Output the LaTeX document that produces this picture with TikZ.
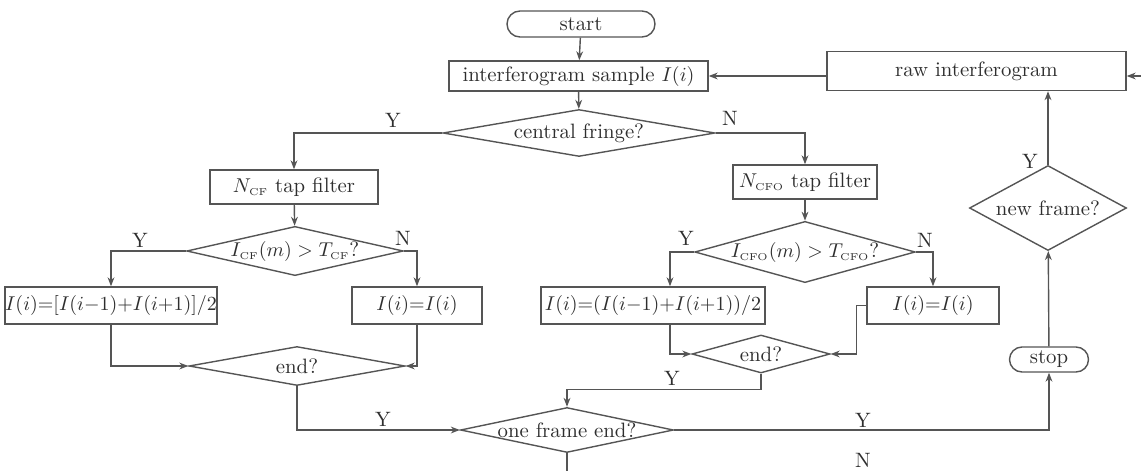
\documentclass[tikz,border=0pt]{standalone}
\usepackage{amsmath, amssymb}
\usepackage{xcolor}
\usepackage{tikz}
\usetikzlibrary{calc, shapes.geometric, shapes.misc, arrows.meta, positioning}

\definecolor{linegray}{HTML}{555555}
\definecolor{textgray}{HTML}{2E2E2E}

\tikzset{
    flowline/.style={draw=linegray, line width=0.7pt},
    arr/.style={flowline, -{Stealth[length=4.5pt, width=3.4pt]}},
    procbox/.style={rectangle, draw=linegray, line width=0.7pt, text=textgray, inner sep=0pt},
    termbox/.style={rounded rectangle, draw=linegray, line width=0.7pt, text=textgray, inner sep=0pt},
    decision/.style={diamond, draw=linegray, line width=0.7pt, text=textgray, inner sep=0pt},
    yn/.style={text=textgray, inner sep=0pt}
}
\newcommand{\sub}[1]{_{\scriptscriptstyle\mathrm{#1}}}

\begin{document}
\begin{tikzpicture}[x=0.5pt, y=-0.5pt, font=\fontsize{10.4}{12}\selectfont]
    \useasboundingbox (0,0) rectangle (1141,471);

    % Khung chính
    \node[termbox, minimum width=74pt, minimum height=13pt] (start) at (581,24) {start};
    \node[procbox, minimum width=129.5pt, minimum height=15pt] (sample) at (578.5,76) {interferogram sample $I(i)$};
    \node[procbox, minimum width=149.5pt, minimum height=19.5pt] (raw) at (976.5,71) {raw interferogram};
    \node[decision, aspect=5.8, minimum width=136pt, minimum height=23.5pt] (central) at (579,133) {central fringe?};

    % Nhánh trái (CF)
    \node[procbox, minimum width=84pt, minimum height=17pt] (ncf) at (294,187) {$N\sub{CF}$ tap filter};
    \node[decision, aspect=4.4, minimum width=101pt, minimum height=23pt] (cf) at (295,251) {$I\sub{CF}(m)>T\sub{CF}$?};
    \node[procbox, minimum width=104pt, minimum height=18.5pt] (box1) at (111,305.5) {$I(i){=}[I(i{-}1){+}I(i{+}1)]/2$};
    \node[procbox, minimum width=65pt, minimum height=18.5pt] (box2) at (417,305.5) {$I(i){=}I(i)$};
    \node[decision, aspect=5.5, minimum width=108pt, minimum height=19.5pt] (end1) at (297,366) {end?};

    % Nhánh phải (CFO)
    \node[procbox, minimum width=72pt, minimum height=17pt] (ncfo) at (805,182) {$N\sub{CFO}$ tap filter};
    \node[decision, aspect=3.6, minimum width=108.5pt, minimum height=30pt] (cfo) at (805,252) {$I\sub{CFO}(m)>T\sub{CFO}$?};
    \node[procbox, minimum width=112pt, minimum height=18.5pt] (box3) at (653,305.5) {$I(i){=}(I(i{-}1){+}I(i{+}1))/2$};
    \node[procbox, minimum width=66pt, minimum height=18.5pt] (box4) at (933,305.5) {$I(i){=}I(i)$};
    \node[decision, aspect=3.6, minimum width=69pt, minimum height=19pt] (end2) at (761,354) {end?};

    % Kết thúc khung
    \node[decision, aspect=4.7, minimum width=106.5pt, minimum height=22.5pt] (oneframe) at (567,430) {one frame end?};
    \node[termbox, minimum width=39.5pt, minimum height=12.5pt] (stop) at (1049,359.5) {stop};
    \node[decision, aspect=1.85, minimum width=78.5pt, minimum height=42.5pt] (newframe) at (1048,208) {new frame?};

    \coordinate (rawin) at (1141,76);
    \coordinate (nout) at (567,471);

    % Các mũi tên
    \draw[arr] (start) -- (sample);
    \draw[arr] (sample) -- (central);
    \draw[arr] (central.west) -| (ncf.north);
    \draw[arr] (central.east) -| (ncfo.north);
    \draw[arr] (ncf) -- (cf);
    \draw[arr] (ncfo) -- (cfo);
    \draw[arr] (cf.west) -| (box1.north);
    \draw[arr] (cf.east) -| (box2.north);
    \draw[arr] (cfo.west) -| ([xshift=8.5pt]box3.north);
    \draw[arr] (cfo.east) -| (box4.north);
    \draw[arr] (box1.south) |- (end1.west);
    \draw[arr] (box2.south) |- (end1.east);
    \draw[arr] ([xshift=8.5pt]box3.south) |- (end2.west);
    \draw[arr] (box4.west) -- ++(-5pt,0) |- (end2.east);
    \draw[arr] (end1.south) |- (oneframe.west);
    \draw[arr] (end2.south) -- ++(0,-8pt) -| (oneframe.north);
    \draw[arr] (oneframe.east) -| (stop.south);
    \draw[flowline] (oneframe.south) -- (nout);
    \draw[arr] (stop) -- (newframe);
    \draw[arr] (newframe.north) -- (newframe.north |- raw.south);
    \draw[arr] (sample.east -| raw.west) -- (sample.east);
    \draw[arr] (rawin) -- (rawin -| raw.east);

    % Nhãn Y / N
    \node[yn] at (393,120) {Y};
    \node[yn] at (730,118) {N};
    \node[yn] at (140,240) {Y};
    \node[yn] at (403,238) {N};
    \node[yn] at (686,238) {Y};
    \node[yn] at (925,240) {N};
    \node[yn] at (383,419) {Y};
    \node[yn] at (672,378) {Y};
    \node[yn] at (863,420) {Y};
    \node[yn] at (863,460) {N};
    \node[yn] at (1030,161) {Y};
\end{tikzpicture}
\end{document}
